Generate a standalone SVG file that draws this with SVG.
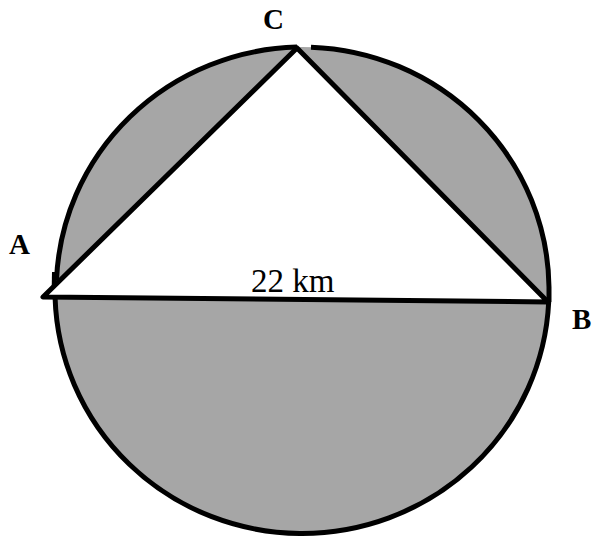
<svg xmlns="http://www.w3.org/2000/svg" width="593" height="537" viewBox="0 0 593 537">
<style>
.lbl{font-family:"Liberation Serif",serif;font-weight:bold;font-size:29px;fill:#000}
.len{font-family:"Liberation Serif",serif;font-size:33px;fill:#000}
.ln{fill:none;stroke:#000;stroke-width:5;stroke-linejoin:round;stroke-linecap:butt}
</style>
<rect width="593" height="537" fill="#fff"/>
<g id="circle">
<ellipse cx="302" cy="290" rx="247" ry="243" fill="#a6a6a6"/>
<path class="ln" d="M 56.5 280 A 247 243 0 0 1 297 47.05"/>
<path class="ln" d="M 311 47.16 A 247 243 0 0 1 549 287"/>
<path class="ln" d="M 548.7 302 A 247 243 0 0 1 55.1 298"/>
<path class="ln" d="M 54 298 L 54.5 272"/>
<path class="ln" d="M 549 287 L 549 302"/>
</g>
<g id="triangle">
<polygon points="43,297 548,302 297,48" fill="#fff" stroke="#000" stroke-width="5" stroke-linejoin="round"/>
</g>
<g id="labels">
<text class="lbl" x="9" y="254">A</text>
<text class="lbl" x="572" y="329">B</text>
<text class="lbl" x="263" y="29">C</text>
<text class="len" x="251" y="292">22 km</text>
</g>
</svg>
